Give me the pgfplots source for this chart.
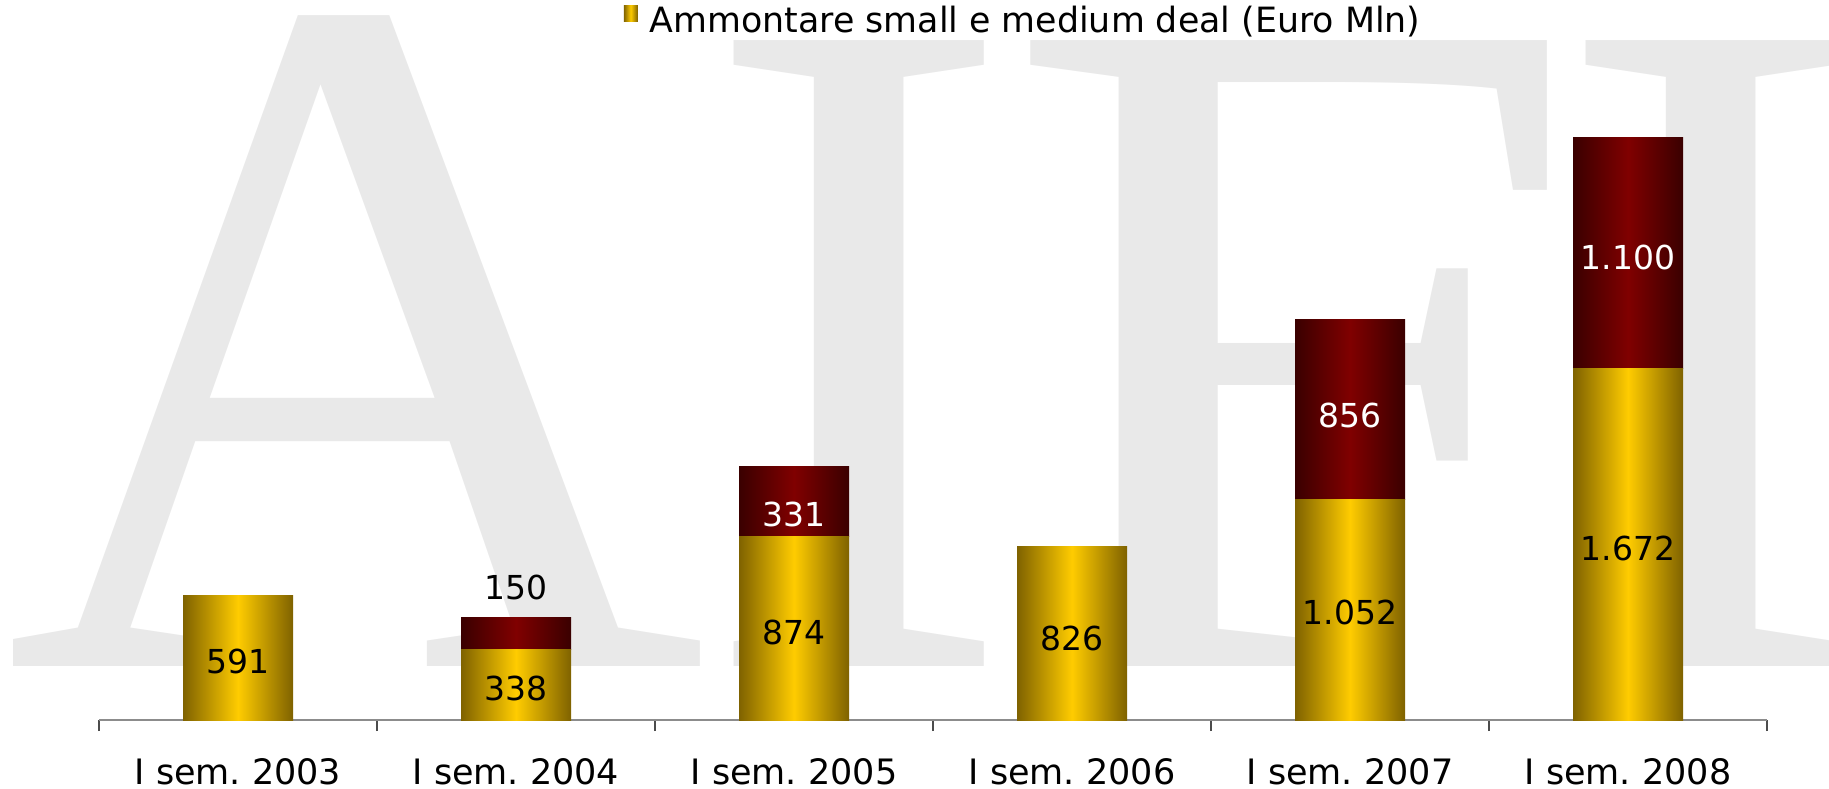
\documentclass[border=0pt]{standalone}
\usepackage{fontspec}
\setmainfont{DejaVu Sans}
\newfontfamily\wmfont{Liberation Serif}
\usepackage{pgfplots}
\pgfplotsset{compat=1.18}
\definecolor{goldC}{HTML}{FFCC00}
\definecolor{goldE}{HTML}{7F6200}
\definecolor{redC}{HTML}{800000}
\definecolor{redE}{HTML}{3A0000}
\definecolor{wm}{HTML}{E9E9E9}
\definecolor{axisgray}{HTML}{8C8C8C}
\pgfplotsset{
  baraxis/.style={at={(0pt,0pt)}, anchor=south west,
    scale only axis, width=834pt, height=360pt,
    xmin=-0.5, xmax=5.5, ymin=0, ymax=3428,
    ybar stacked, bar width=55pt, clip=false},
  goldbar/.style={draw=none, left color=goldE, right color=goldE, middle color=goldC},
  redbar/.style={draw=none, left color=redE, right color=redE, middle color=redC},
}
\begin{document}
\frenchspacing
\begin{tikzpicture}
\useasboundingbox (-49.5pt,-34pt) rectangle (865pt,360pt);
% watermark
\begin{scope}
\clip (-42.5pt,0pt) rectangle (865pt,353pt);
\node[text=wm, font=\wmfont\fontsize{493}{493}\selectfont, anchor=base, inner sep=0pt] at (126.5pt,27pt) {A};
\node[text=wm, font=\wmfont\fontsize{478}{478}\selectfont, anchor=base, inner sep=0pt] at (380pt,27pt) {I};
\node[text=wm, font=\wmfont\fontsize{478}{478}\selectfont, anchor=base, inner sep=0pt, xscale=1.1] at (597pt,27pt) {F};
\node[text=wm, font=\wmfont\fontsize{478}{478}\selectfont, anchor=base, inner sep=0pt] at (806pt,27pt) {I};
\end{scope}
\begin{axis}[baraxis,
  axis x line*=bottom, axis y line=none,
  x axis line style={-, draw=axisgray, line width=1.2pt},
  xtick={0,1,2,3,4,5},
  xticklabels={I sem.\ 2003,I sem.\ 2004,I sem.\ 2005,I sem.\ 2006,I sem.\ 2007,I sem.\ 2008},
  major tick length=0pt,
  minor xtick={-0.5,0.5,1.5,2.5,3.5,4.5,5.5},
  minor tick length=5.5pt, tick align=outside,
  every minor tick/.style={draw=black!70, line width=0.6pt},
  xticklabel style={font=\fontsize{17.5}{20}\selectfont, anchor=base, yshift=-32pt},
  legend style={at={(0.5546,1)}, anchor=north, draw=none, fill=none,
    font=\fontsize{17.4}{20}\selectfont, inner sep=1pt, column sep=4pt},
  legend image code/.code={\fill[left color=goldE, right color=goldE, middle color=goldC] (0pt,0pt) rectangle (7pt,8pt);},
]
\addplot[goldbar] coordinates {(0,591)};
\addplot[redbar] coordinates {(0,0)};
\legend{Ammontare small e medium deal (Euro Mln)}
\end{axis}
\begin{axis}[baraxis, hide axis]
\addplot[goldbar] coordinates {(1,338)};
\addplot[redbar] coordinates {(1,150)};
\end{axis}
\begin{axis}[baraxis, hide axis]
\addplot[goldbar] coordinates {(2,874)};
\addplot[redbar] coordinates {(2,331)};
\end{axis}
\begin{axis}[baraxis, hide axis]
\addplot[goldbar] coordinates {(3,826)};
\addplot[redbar] coordinates {(3,0)};
\end{axis}
\begin{axis}[baraxis, hide axis]
\addplot[goldbar] coordinates {(4,1052)};
\addplot[redbar] coordinates {(4,856)};
\end{axis}
\begin{axis}[baraxis, hide axis]
\addplot[goldbar] coordinates {(5,1672)};
\addplot[redbar] coordinates {(5,1100)};
\end{axis}
% value labels
\begin{axis}[at={(0pt,0pt)}, anchor=south west,
  scale only axis, width=834pt, height=360pt,
  xmin=-0.5, xmax=5.5, ymin=0, ymax=3428,
  hide axis, clip=false]
\addplot[draw=none, mark=none, nodes near coords, point meta=explicit symbolic,
  nodes near coords align=center,
  every node near coord/.append style={font=\fontsize{16.5}{18}\selectfont, text=black, inner sep=0pt}]
  coordinates {(0,278)[591] (1,150)[338] (2,417)[874] (3,389)[826] (4,511)[1.052] (5,817)[1.672] (1,633)[150]};
\addplot[draw=none, mark=none, nodes near coords, point meta=explicit symbolic,
  nodes near coords align=center,
  every node near coord/.append style={font=\fontsize{16.5}{18}\selectfont, text=white, inner sep=0pt}]
  coordinates {(2,978)[331] (4,1450)[856] (5,2200)[1.100]};
\end{axis}
\end{tikzpicture}
\end{document}
